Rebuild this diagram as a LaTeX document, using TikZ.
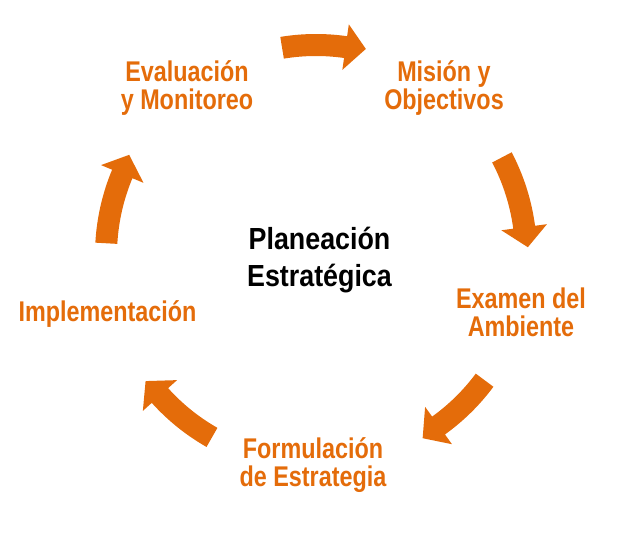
\documentclass[tikz,border=0pt]{standalone}
\usepackage{fontspec}
\newfontfamily\labfont[FakeStretch=0.82]{Liberation Sans}
\newfontfamily\mainlabfont[FakeStretch=0.88]{Liberation Sans}
\definecolor{accent}{HTML}{E46C0A}
\tikzset{
  steplabel/.style={text=accent, font=\labfont\bfseries\fontsize{28.5}{28}\selectfont, align=center, anchor=base, inner sep=0pt},
  centerlabel/.style={text=black, font=\mainlabfont\bfseries\fontsize{30.5}{37}\selectfont, align=center, anchor=base, inner sep=0pt},
  cyclearrow/.style={fill=accent, draw=none}
}
% #1 tail angle, #2 tip angle
\newcommand{\cycarrow}[2]{%
  \pgfmathsetmacro{\ab}{#2+5.5}%
  \fill[cyclearrow] (#1:221pt) arc[start angle=#1, end angle=\ab, radius=221pt]
    -- (\ab:233pt) -- (#2:212pt) -- (\ab:187pt) -- (\ab:199pt)
    arc[start angle=\ab, end angle=#1, radius=199pt] -- cycle;}
\begin{document}
\begin{tikzpicture}[x=1pt,y=1pt]
\useasboundingbox (0,0) rectangle (629,533);
\begin{scope}[shift={(316,278)}]
  \cycarrow{99.3}{76.4}
  \cycarrow{27.7}{2.1}
  \cycarrow{-36.6}{-59.8}
  \cycarrow{-119.7}{-143.5}
  \cycarrow{176.8}{151.8}
\end{scope}
\node[steplabel] (eval) at (187,423) {Evaluación\\y Monitoreo};
\node[steplabel] (mision) at (444,423) {Misión y\\Objectivos};
\node[centerlabel] (plan) at (319.5,246) {Planeación\\Estratégica};
\node[steplabel] (examen) at (521,196) {Examen del\\Ambiente};
\node[steplabel] (impl) at (107.5,211) {Implementación};
\node[steplabel] (form) at (313,46) {Formulación\\de Estrategia};
\end{tikzpicture}
\end{document}
